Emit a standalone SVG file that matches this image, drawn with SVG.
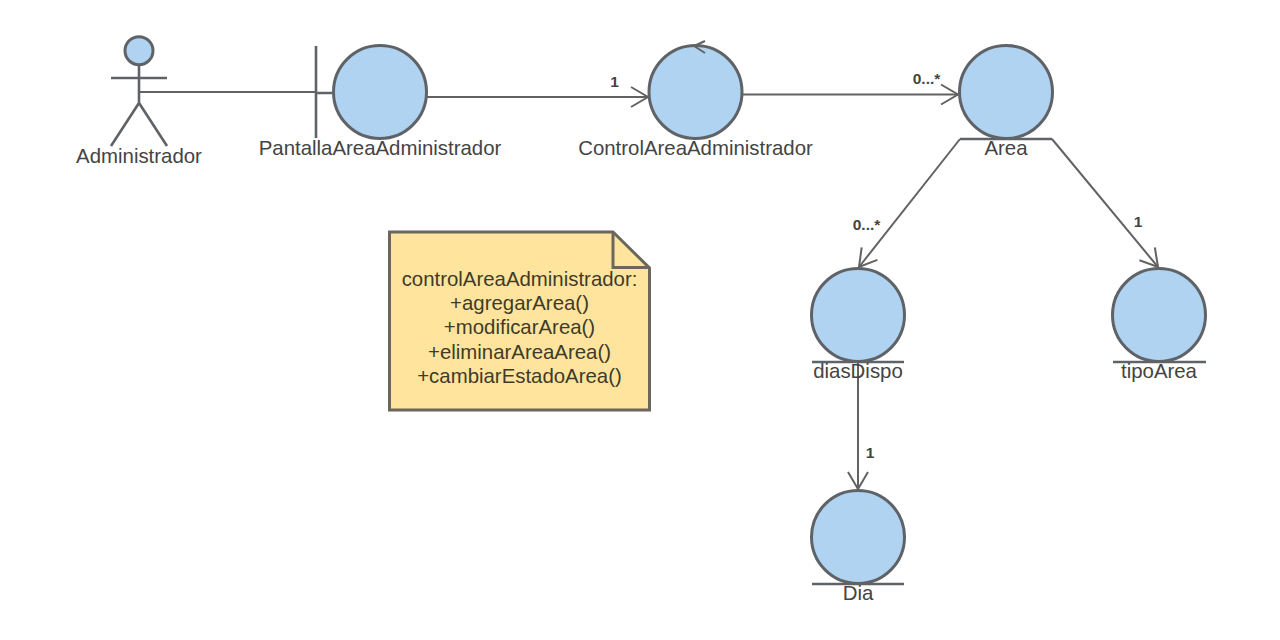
<svg xmlns="http://www.w3.org/2000/svg" width="1280" height="640" viewBox="0 0 1280 640">
<style>
.n{fill:#afd3f0;stroke:#5f6368;stroke-width:3}
.l{fill:none;stroke:#5f6368;stroke-width:2.600}
.c{fill:none;stroke:#626262;stroke-width:2}
.t{font-family:"Liberation Sans",Arial,sans-serif;font-size:20.400px;fill:#444;text-anchor:middle}
.m{font-family:"Liberation Sans",Arial,sans-serif;font-size:15.500px;font-weight:bold;fill:#444;text-anchor:middle}
.o{font-family:"Liberation Sans",Arial,sans-serif;font-size:20.400px;fill:#3f3b28;text-anchor:middle}
</style>
<defs>
<marker id="a" viewBox="0 0 24 24" refX="22" refY="12" markerWidth="24" markerHeight="24" markerUnits="userSpaceOnUse" orient="auto"><path d="M5 2L22 12L5 22" fill="none" stroke="#626262" stroke-width="2"/></marker>
</defs>
<rect width="1280" height="640" fill="#fff"/>
<g id="connectors">
<path class="c" d="M140 92H316"/>
<path class="c" d="M427 97H648" marker-end="url(#a)"/>
<path class="c" d="M743 94.500H958" marker-end="url(#a)"/>
<path class="c" d="M960 139L859 267" marker-end="url(#a)"/>
<path class="c" d="M1052 139L1158 267" marker-end="url(#a)"/>
<path class="c" d="M858 362V489" marker-end="url(#a)"/>
<text class="m" x="614.500" y="86.500">1</text>
<text class="m" x="926.500" y="84">0...*</text>
<text class="m" x="866.500" y="229.500">0...*</text>
<text class="m" x="1138" y="226.500">1</text>
<text class="m" x="870" y="458">1</text>
</g>
<g id="administrador">
<circle class="n" cx="139" cy="50.700" r="14"/>
<path class="l" d="M139 65V103M111 78H167M111 146L139 103L167 146"/>
<text class="t" x="139" y="163">Administrador</text>
</g>
<g id="pantalla">
<path class="l" d="M316 46V138M316 93H334"/>
<circle class="n" cx="380" cy="92" r="46.500"/>
<text class="t" x="380" y="155">PantallaAreaAdministrador</text>
</g>
<g id="control">
<circle class="n" cx="695.500" cy="92" r="46.500"/>
<path class="c" d="M705 41L694 46L705 53"/>
<text class="t" x="695.500" y="155">ControlAreaAdministrador</text>
</g>
<g id="area">
<circle class="n" cx="1006" cy="92" r="46.500"/>
<path class="l" d="M960 139H1052"/>
<text class="t" x="1006" y="155">Area</text>
</g>
<g id="diasDispo">
<circle class="n" cx="858" cy="315" r="46.500"/>
<path class="l" d="M812 362H904"/>
<text class="t" x="858" y="378">diasDispo</text>
</g>
<g id="tipoArea">
<circle class="n" cx="1159" cy="315" r="46.500"/>
<path class="l" d="M1113 362H1206"/>
<text class="t" x="1159" y="378">tipoArea</text>
</g>
<g id="dia">
<circle class="n" cx="858" cy="537" r="46.500"/>
<path class="l" d="M812 584H904"/>
<text class="t" x="858" y="600">Dia</text>
</g>
<g id="nota">
<path d="M389.500 232H613L649.500 268V410H389.500Z" fill="#ffe49e" stroke="#6b675c" stroke-width="3"/>
<path d="M613 232V267.500H649.500" fill="none" stroke="#6b675c" stroke-width="3"/>
<text class="o" x="519.500" y="285.500">controlAreaAdministrador:</text>
<text class="o" x="519.500" y="310">+agregarArea()</text>
<text class="o" x="519.500" y="334">+modificarArea()</text>
<text class="o" x="519.500" y="359">+eliminarAreaArea()</text>
<text class="o" x="519.500" y="383">+cambiarEstadoArea()</text>
</g>
</svg>
